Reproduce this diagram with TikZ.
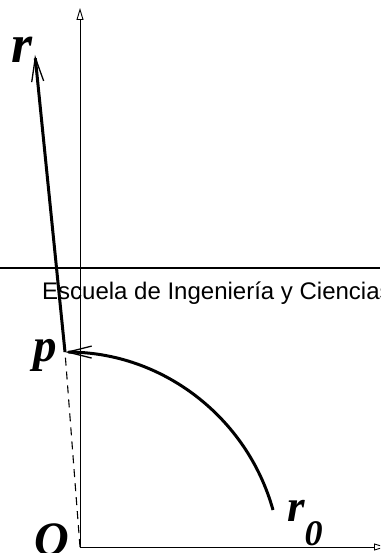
\documentclass[tikz,border=0pt]{standalone}
\usepackage{fontspec}
\setmainfont{Liberation Serif}
\newfontfamily\helv{Liberation Sans}
\usetikzlibrary{arrows.meta}
\begin{document}
\begin{tikzpicture}[x=1pt,y=1pt,
  axis/.style={line width=0.9pt,-{Triangle[open,length=12pt,width=7pt]}},
  vec/.style={line width=3pt,-{Straight Barb[length=24pt,width=12pt,line width=1.3pt]}},
  lbl/.style={inner sep=0pt,font=\bfseries\itshape}]
  \useasboundingbox (0,0) rectangle (380,553);
  \clip (0,0) rectangle (380,553);
  \coordinate (O) at (80,6);
  \coordinate (ytop) at (80,545);
  \coordinate (xend) at (386,6);
  \coordinate (P) at (65,201);
  \coordinate (R) at (35,498);
  \coordinate (R0) at (273,43);
  \coordinate (hl) at (0,285);
  \coordinate (hr) at (380,285);
  \draw[axis] (O) -- (ytop);
  \draw[axis] (O) -- (xend);
  \draw[line width=1.8pt] (hl) -- (hr);
  \draw[line width=1.1pt,dash pattern=on 8pt off 6pt] (O) -- (P);
  \draw[vec] (P) -- (R);
  \draw[vec] (R0) arc[start angle=15.6,end angle=90,radius=216];
  \node[anchor=base west,inner sep=0pt,font=\helv\fontsize{24}{24}\selectfont] (esc) at (42,253) {Escuela de Ingeniería y Ciencias};
  \node[lbl,font=\bfseries\itshape\fontsize{54}{54}\selectfont] (rlab) at (22,503) {r};
  \node[lbl,anchor=base,font=\bfseries\itshape\fontsize{47}{47}\selectfont] (plab) at (45,191) {p};
  \node[lbl,anchor=base,font=\bfseries\itshape\fontsize{48}{48}\selectfont] (olab) at (52,-2) {O};
  \node[lbl,anchor=base west,font=\bfseries\itshape\fontsize{45}{45}\selectfont] (r0lab) at (287,31) {r\kern0pt\raisebox{-24pt}{\fontsize{36}{36}\selectfont 0}};
\end{tikzpicture}
\end{document}
